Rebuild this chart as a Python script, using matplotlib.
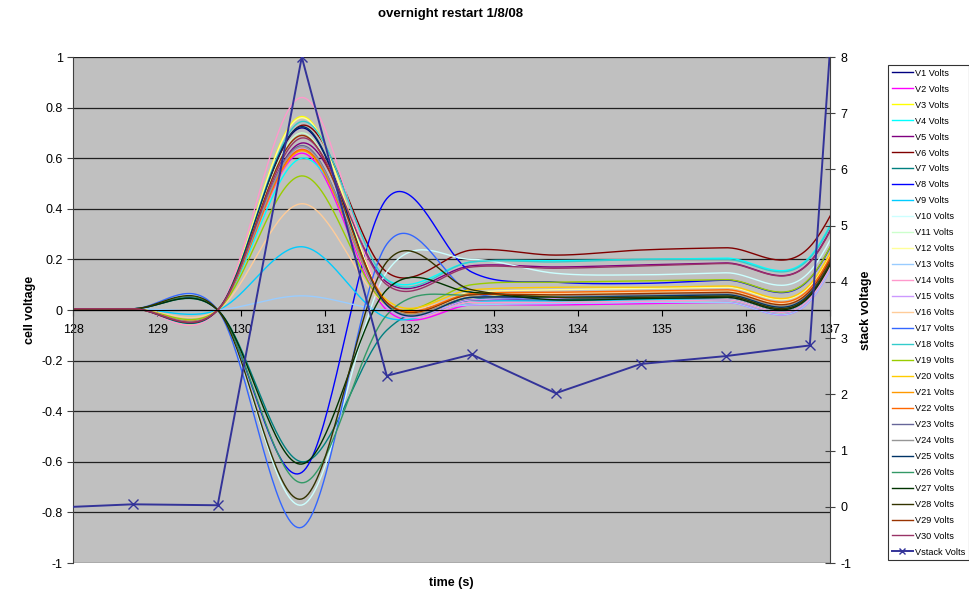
import numpy as np
import matplotlib
matplotlib.use("Agg")
import matplotlib.pyplot as plt

plt.rcParams['font.family'] = ['Liberation Sans', 'DejaVu Sans']
plt.rcParams['axes.unicode_minus'] = False

# sample times (s)
times = [127.70, 128.71, 129.72, 130.72, 131.73, 132.74, 133.74, 134.75, 135.76, 136.76, 137.77]

# cell voltages at the sample times
V1  = [0.005, 0.005, 0.0, 0.720, 0.02, 0.040, 0.040, 0.045, 0.050, 0.055, 0.77]
V2  = [0.005, 0.005, 0.0, 0.620, 0.00, 0.020, 0.020, 0.025, 0.030, 0.035, 0.75]
V3  = [0.005, 0.005, 0.0, 0.765, 0.02, 0.050, 0.060, 0.070, 0.070, 0.075, 0.79]
V4  = [0.005, 0.005, 0.0, 0.600, 0.12, 0.190, 0.195, 0.200, 0.205, 0.210, 0.93]
V5  = [0.005, 0.005, 0.0, 0.660, 0.11, 0.175, 0.170, 0.178, 0.186, 0.190, 0.91]
V6  = [0.005, 0.005, 0.0, 0.730, 0.15, 0.237, 0.217, 0.237, 0.246, 0.250, 0.95]
V7  = [0.005, 0.005, 0.0, -0.600, -0.08, 0.040, 0.040, 0.045, 0.050, 0.055, 0.77]
V8  = [0.005, 0.005, 0.0, -0.642, 0.44, 0.150, 0.110, 0.105, 0.118, 0.123, 0.84]
V9  = [0.005, 0.005, 0.0, 0.250, -0.03, 0.030, 0.035, 0.040, 0.040, 0.045, 0.76]
V10 = [0.005, 0.005, 0.0, -0.771, 0.15, 0.200, 0.145, 0.139, 0.147, 0.152, 0.87]
V11 = [0.005, 0.005, 0.0, 0.700, 0.02, 0.060, 0.065, 0.070, 0.070, 0.075, 0.79]
V12 = [0.005, 0.005, 0.0, 0.760, 0.03, 0.070, 0.080, 0.085, 0.090, 0.095, 0.81]
V13 = [0.005, 0.005, 0.0, 0.056, 0.00, 0.020, 0.025, 0.030, 0.030, 0.035, 0.75]
V14 = [0.005, 0.005, 0.0, 0.840, 0.03, 0.030, 0.030, 0.035, 0.040, 0.045, 0.76]
V15 = [0.005, 0.005, 0.0, 0.640, 0.01, 0.040, 0.045, 0.050, 0.050, 0.055, 0.77]
V16 = [0.005, 0.005, 0.0, 0.420, 0.02, 0.060, 0.065, 0.070, 0.075, 0.080, 0.80]
V17 = [0.005, 0.005, 0.0, -0.859, 0.26, 0.070, 0.050, 0.050, 0.055, 0.060, 0.78]
V18 = [0.005, 0.005, 0.0, 0.745, 0.12, 0.190, 0.190, 0.200, 0.200, 0.205, 0.92]
V19 = [0.005, 0.005, 0.0, 0.530, 0.02, 0.100, 0.110, 0.115, 0.120, 0.125, 0.84]
V20 = [0.005, 0.005, 0.0, 0.630, 0.04, 0.080, 0.090, 0.090, 0.095, 0.100, 0.82]
V21 = [0.005, 0.005, 0.0, 0.630, 0.02, 0.050, 0.050, 0.055, 0.060, 0.065, 0.78]
V22 = [0.005, 0.005, 0.0, 0.635, 0.03, 0.065, 0.070, 0.075, 0.080, 0.085, 0.80]
V23 = [0.005, 0.005, 0.0, 0.650, 0.02, 0.050, 0.050, 0.060, 0.060, 0.065, 0.78]
V24 = [0.005, 0.005, 0.0, 0.645, 0.02, 0.050, 0.055, 0.060, 0.065, 0.070, 0.79]
V25 = [0.005, 0.005, 0.0, 0.725, 0.02, 0.050, 0.050, 0.055, 0.060, 0.065, 0.78]
V26 = [0.005, 0.005, 0.0, -0.683, -0.02, 0.060, 0.050, 0.050, 0.055, 0.060, 0.78]
V27 = [0.005, 0.005, 0.0, -0.609, 0.08, 0.070, 0.040, 0.045, 0.050, 0.055, 0.77]
V28 = [0.005, 0.005, 0.0, -0.747, 0.19, 0.080, 0.050, 0.050, 0.055, 0.060, 0.78]
V29 = [0.005, 0.005, 0.0, 0.690, 0.03, 0.060, 0.060, 0.065, 0.070, 0.075, 0.79]
V30 = [0.005, 0.005, 0.0, 0.680, 0.10, 0.170, 0.165, 0.174, 0.184, 0.188, 0.90]

# stack voltage
Vstack = [-0.02, 0.044, 0.027, 8.0, 2.33, 2.71, 2.02, 2.54, 2.68, 2.87, 25.0]

cells = [V1, V2, V3, V4, V5, V6, V7, V8, V9, V10, V11, V12, V13, V14, V15,
         V16, V17, V18, V19, V20, V21, V22, V23, V24, V25, V26, V27, V28, V29, V30]
labels = [f"V{i} Volts" for i in range(1, 31)]
colors = ['#000080', '#FF00FF', '#FFFF00', '#00FFFF', '#800080', '#800000', '#008080',
          '#0000FF', '#00CCFF', '#CCFFFF', '#CCFFCC', '#FFFF99', '#99CCFF', '#FF99CC',
          '#CC99FF', '#FFCC99', '#3366FF', '#33CCCC', '#99CC00', '#FFCC00', '#FF9900',
          '#FF6600', '#666699', '#969696', '#003366', '#339966', '#003300', '#333300',
          '#993300', '#993366']


def smooth(xs, ys, n=40):
    """Excel-style smoothed line: cubic Bezier through the points."""
    P = np.column_stack([xs, ys]).astype(float)
    m = len(P)
    out = []
    for i in range(m - 1):
        p0 = P[i - 1] if i > 0 else P[i]
        p1 = P[i]
        p2 = P[i + 1]
        p3 = P[i + 2] if i + 2 < m else P[i + 1]
        c1 = p1 + (p2 - p0) / 6.0
        c2 = p2 - (p3 - p1) / 6.0
        t = np.linspace(0, 1, n)[:, None]
        seg = ((1 - t) ** 3) * p1 + 3 * ((1 - t) ** 2) * t * c1 + 3 * (1 - t) * t ** 2 * c2 + t ** 3 * p2
        out.append(seg if i == 0 else seg[1:])
    seg = np.vstack(out)
    return seg[:, 0], seg[:, 1]


fig = plt.figure(figsize=(9.70, 5.93), dpi=100)
ax = fig.add_axes([73 / 970, 1 - 563 / 593, (830 - 73) / 970, (563 - 57) / 593])
ax.set_facecolor('#C0C0C0')

handles = []
for vals, lab, col in zip(cells, labels, colors):
    sx, sy = smooth(times, vals)
    h, = ax.plot(sx, sy, color=col, lw=1.0, label=lab)
    handles.append(h)

ax.set_xlim(128, 137)
ax.set_ylim(-1, 1)
ax.set_yticks(np.arange(-1, 1.01, 0.2))
ax.set_yticklabels(['-1', '-0.8', '-0.6', '-0.4', '-0.2', '0', '0.2', '0.4', '0.6', '0.8', '1'])
ax.set_xticks(range(128, 138))
ax.yaxis.grid(True, color='#202020', lw=0.9)
ax.set_axisbelow(True)
ax.spines['bottom'].set_position(('data', 0))
ax.spines['top'].set_visible(False)
ax.spines['right'].set_visible(False)
ax.spines['left'].set_color('#404040')
ax.spines['bottom'].set_color('black')
ax.tick_params(axis='x', direction='out', length=4, labelsize=9, pad=6, color='black')
ax.tick_params(axis='y', direction='out', length=4, labelsize=9, color='#404040')
ax.set_ylabel('cell voltage', fontsize=9, fontweight='bold', labelpad=4)

ax2 = ax.twinx()
sv, = ax2.plot(times, Vstack, color='#333399', lw=1.4, marker='x', ms=7, mew=1.0, label='Vstack Volts')
handles.append(sv)
ax2.set_ylim(-1, 8)
ax2.set_yticks(range(-1, 9))
ax2.set_xlim(128, 137)
for s in ['top', 'bottom', 'left']:
    ax2.spines[s].set_visible(False)
ax2.spines['right'].set_color('#404040')
ax2.tick_params(axis='y', direction='inout', length=7, labelsize=9, color='#404040', pad=4)
ax2.set_ylabel('stack voltage', fontsize=9, fontweight='bold', labelpad=6)

fig.text(451 / 970, 1 - 14 / 593, 'overnight restart 1/8/08', ha='center', va='center',
         fontsize=9.5, fontweight='bold')
fig.text(451 / 970, 1 - 583 / 593, 'time (s)', ha='center', va='center',
         fontsize=9, fontweight='bold')

leg = fig.legend(handles=handles, loc='upper left', bbox_to_anchor=(888 / 970, 1 - 65 / 593),
                 borderaxespad=0, frameon=True, fancybox=False, edgecolor='black',
                 fontsize=6.6, labelspacing=0.76, handlelength=2.3, handletextpad=0.25,
                 borderpad=0.4, markerscale=0.7)
leg.get_frame().set_linewidth(0.8)

fig.savefig('out.png', dpi=100)
